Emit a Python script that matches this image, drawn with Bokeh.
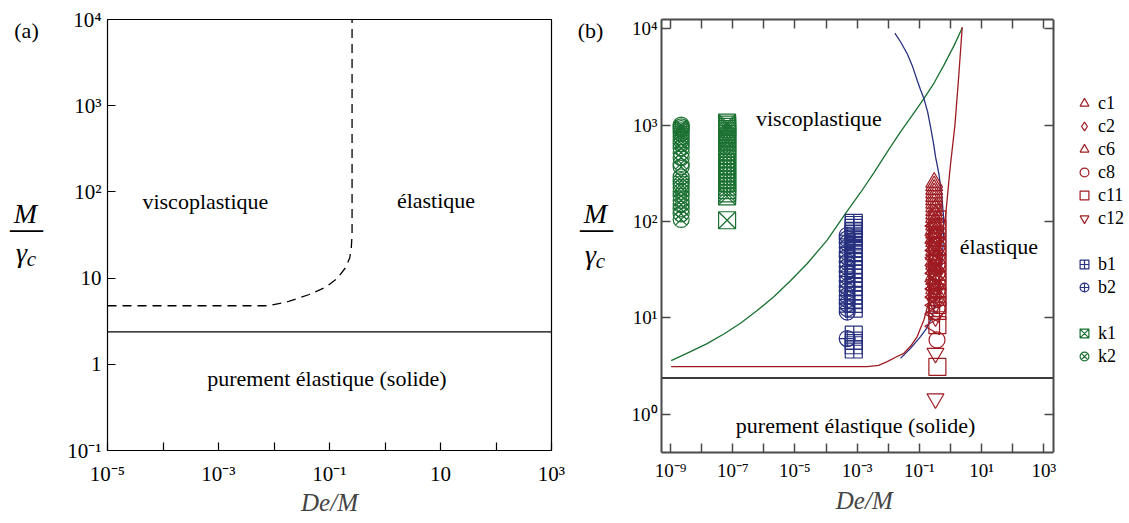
import math
from bokeh.plotting import figure
from bokeh.layouts import row
from bokeh.models import (FixedTicker, CustomJSTickFormatter, Span, Legend,
                          LegendItem, LogAxis, Range1d)
from bokeh.core.properties import value
from bokeh.embed import file_html
from bokeh.resources import INLINE

SERIF = "Liberation Serif"
RED = "#9e1b22"
BLUE = "#27307f"
GREEN = "#1a7031"
GREY = "#4a4a4a"

# ---------------- panel (a) data ----------------
a_x_ticks = [1e-5, 1e-3, 1e-1, 1e1, 1e3]
a_x_minor = [1e-4, 1e-2, 1e0, 1e2]
a_y_ticks = [1e-1, 1e0, 1e1, 1e2, 1e3, 1e4]
a_solid_level = 2.38
a_dash_x = [1e-5, 0.0080, 0.0184, 0.042, 0.084, 0.136, 0.193, 0.231, 0.247, 0.255, 0.255]
a_dash_y = [4.78, 4.78, 5.36, 6.41, 7.8, 9.84, 13.1, 17.1, 22.3, 32.0, 1e4]
a_labels = ["viscoplastique", "élastique", "purement élastique (solide)"]
a_label_x = [5.8e-4, 8.3, 0.09]
a_label_y = [78.0, 80.0, 0.69]

# ---------------- panel (b) data ----------------
b_x_lo, b_x_hi = 5.14e-10, 2004.0        # extent of the axes box
b_y_lo, b_y_hi = 0.401, 12474.0
b_x_ticks = [1e-9, 1e-7, 1e-5, 1e-3, 1e-1, 1e1, 1e3]
b_x_minor = [1e-8, 1e-6, 1e-4, 1e-2, 1e0, 1e2]
b_y_ticks = [1e0, 1e1, 1e2, 1e3, 1e4]
b_solid_level = 2.38

green_x = [1.05e-9, 4.4e-9, 1.5e-8, 5.2e-8, 1.78e-7, 6.1e-7, 2.1e-6, 7.2e-6, 2.5e-5,
           1.09e-4, 4.2e-4, 1.29e-3, 3.4e-3, 9.3e-3, 0.0248, 0.059, 0.14, 0.30, 0.61,
           1.33, 2.4]
green_y = [3.6, 4.47, 5.4, 6.8, 8.8, 11.9, 16.6, 24.3, 36.7, 64, 121, 200, 318, 527, 850,
           1264, 1885, 2750, 4170, 6760, 10240]
blue_x = [0.0163, 0.0248, 0.0408, 0.0592, 0.0855, 0.109, 0.140, 0.184, 0.229, 0.286, 0.332,
          0.424, 0.518, 0.600, 0.600, 0.545, 0.463, 0.377, 0.260, 0.171, 0.109, 0.052, 0.0248]
blue_y = [9020, 7330, 5510, 4140, 2910, 2330, 1885, 1380, 958, 643, 468, 314, 195, 112,
          66.7, 43, 27.6, 17.9, 10.3, 7.8, 6.4, 4.83, 3.8]
red_x = [1.05e-9, 2.11e-3, 4.9e-3, 9.3e-3, 0.0172, 0.0318, 0.052, 0.0855, 0.109, 0.140,
         0.184, 0.229, 0.385, 0.695, 0.97, 1.39, 1.82, 2.39]
red_y = [3.12, 3.12, 3.22, 3.52, 3.90, 4.29, 5.07, 6.4, 7.8, 9.5, 13.2, 17.9, 46.6, 112,
         354, 995, 3030, 10400]

k2_x = [2.2e-9] * 24
k2_y = [1000, 960, 920, 870, 820, 760, 700, 640, 580, 520, 460, 400, 370, 290, 265,
        245, 225, 205, 185, 165, 150, 135, 120, 105]
k1_x = [6.6e-8] * 26
k1_y = [1060, 1010, 960, 910, 860, 810, 760, 710, 660, 610, 570, 530, 490, 450, 410,
        380, 350, 320, 295, 270, 250, 230, 212, 196, 182, 103]
b2_x = [4.8e-4] * 19
b2_y = [72, 66, 60, 54, 48, 43, 38, 34, 30, 27, 24, 21, 19, 17, 15.5, 14, 12.5, 11.5, 6.1]
b1_x = [7.8e-4] * 27
b1_y = [97, 92, 86, 80, 74, 68, 62, 57, 52, 47, 43, 39, 35, 32, 29, 26, 23.5, 21, 19,
        17, 15.5, 14, 12.5, 6.7, 5.8, 5.2, 4.7]
c1_x = [0.30] * 28
c1_y = [255, 235, 215, 198, 182, 168, 155, 142, 130, 120, 110, 100, 92, 84, 76, 69, 62,
        56, 50, 45, 40, 36, 32, 28, 25, 22, 20, 18]
c2_x = [0.33] * 17
c2_y = [140, 120, 105, 92, 80, 70, 62, 55, 48, 42, 37, 32, 28, 24, 21, 18, 16]
c6_x = [0.31] * 13
c6_y = [90, 72, 60, 50, 42, 35, 29, 24, 20, 16.5, 13.5, 11, 8.2]
c8_x = [0.37] * 10
c8_y = [70, 55, 44, 36, 29, 23, 19, 15.5, 12.5, 5.9]
c11_x = [0.38] * 14
c11_y = [105, 85, 68, 55, 45, 37, 30, 24, 20, 16.5, 13.6, 11.8, 8.4, 3.1]
c12_x = [0.33] * 8
c12_y = [60, 40, 28, 20, 14, 10.3, 4.3, 1.45]

b_labels = ["viscoplastique", "élastique", "purement élastique (solide)"]
b_label_x = [5.9e-5, 36.0, 8.9e-4]
b_label_y = [1167.0, 54.7, 0.756]

# side titles (panel tag and y-axis fraction)
tag_a, tag_b = "(a)", "(b)"
frac_top, frac_bar, frac_gamma, frac_sub = "M", "\u2014", "\u03b3", "c"

ALIGN_SHIFT = 19  # the strips' frames start 19 px below the top


def sup_formatter(plain):
    code = r"""
    const e = Math.round(Math.log10(tick));
    const s = {"-":"\u207b","0":"\u2070","1":"\u00b9","2":"\u00b2","3":"\u00b3","4":"\u2074",
               "5":"\u2075","6":"\u2076","7":"\u2077","8":"\u2078","9":"\u2079"};
    if (PLAIN && e == 0) return "1";
    if (PLAIN && e == 1) return "10";
    return "10" + String(e).split("").map(c => s[c]).join("");
    """.replace("PLAIN", "true" if plain else "false")
    return CustomJSTickFormatter(code=code)


def style_axis(ax, color, size, tick_len, lw, standoff, line=None):
    if line is None:
        ax.axis_line_color = None
    else:
        ax.axis_line_color = color
        ax.axis_line_width = line
    ax.major_tick_in = tick_len
    ax.major_tick_out = 0
    ax.minor_tick_in = tick_len
    ax.minor_tick_out = 0
    ax.major_tick_line_color = color
    ax.minor_tick_line_color = color
    ax.major_tick_line_width = lw
    ax.minor_tick_line_width = lw
    ax.major_label_text_font = SERIF
    ax.major_label_text_font_size = size
    ax.major_label_text_color = "black"
    ax.major_label_standoff = standoff


def side_strip(width, tag, tag_xy, m_xy, bar_xy, g_xy, c_xy):
    s = figure(title=None, frame_width=width, frame_height=523,
               x_range=Range1d(0, width), y_range=Range1d(523 + ALIGN_SHIFT, ALIGN_SHIFT),
               x_axis_location=None, y_axis_location=None, min_border=0,
               output_backend="svg", toolbar_location=None)
    s.grid.visible = False
    s.outline_line_color = None
    common = dict(text_font=value(SERIF), text_align="center", text_baseline="middle",
                  text_color="black")
    s.text(x=[tag_xy[0]], y=[tag_xy[1]], text=[tag], text_font_size="22px", **common)
    s.text(x=[m_xy[0]], y=[m_xy[1]], text=[frac_top], text_font_size="28px",
           text_font_style="italic", **common)
    s.text(x=[bar_xy[0]], y=[bar_xy[1]], text=[frac_bar], text_font_size="33px", **common)
    s.text(x=[g_xy[0]], y=[g_xy[1]], text=[frac_gamma], text_font_size="28px",
           text_font_style="italic", **common)
    s.text(x=[c_xy[0]], y=[c_xy[1]], text=[frac_sub], text_font_size="21px",
           text_font_style="italic", **common)
    return s


# ================= panel (a) =================
sa = side_strip(52, tag_a, (26, 30), (25, 213), (26, 227), (21, 252), (31, 258))

pa = figure(x_axis_type="log", y_axis_type="log", x_range=(1e-5, 1e3), y_range=(0.1, 1e4),
            frame_width=444, frame_height=431, min_border_left=55, min_border_right=24,
            min_border_top=19, min_border_bottom=73, output_backend="svg",
            toolbar_location=None)
pa.grid.visible = False
pa.outline_line_color = "black"
pa.outline_line_width = 1.2
pa.xaxis.ticker = FixedTicker(ticks=a_x_ticks, minor_ticks=a_x_minor)
pa.yaxis.ticker = FixedTicker(ticks=a_y_ticks, minor_ticks=[])
pa.xaxis.formatter = sup_formatter(True)
pa.yaxis.formatter = sup_formatter(True)
style_axis(pa.xaxis[0], "black", "21px", 8, 1.2, 11)
style_axis(pa.yaxis[0], "black", "21px", 8, 1.2, 6)
pa.xaxis.axis_label = "De/M"
pa.xaxis.axis_label_text_font = SERIF
pa.xaxis.axis_label_text_font_style = "italic"
pa.xaxis.axis_label_text_font_size = "25px"
pa.xaxis.axis_label_standoff = 0

pa.add_layout(Span(location=a_solid_level, dimension="width", line_color="black", line_width=1.3))
pa.line(a_dash_x, a_dash_y, line_color="black", line_width=1.3, line_dash="9 6")
pa.text(x=a_label_x, y=a_label_y, text=a_labels, text_font=value(SERIF),
        text_font_size="22px", text_align="center", text_baseline="middle", text_color="black")

# ================= panel (b) =================
sb = side_strip(45, tag_b, (15, 30), (20, 213), (21, 227), (15, 254), (25, 260))

# frame extends over the legend column; the axes box is drawn by bounded axes
pb = figure(x_axis_type="log", y_axis_type="log", x_range=(b_x_lo, 5.7e5),
            y_range=(b_y_lo, b_y_hi), frame_width=468, frame_height=433,
            min_border_left=41, min_border_right=0, min_border_top=16,
            min_border_bottom=74, output_backend="svg", toolbar_location=None)
pb.grid.visible = False
pb.outline_line_color = None
pb.xaxis.ticker = FixedTicker(ticks=b_x_ticks, minor_ticks=b_x_minor)
pb.yaxis.ticker = FixedTicker(ticks=b_y_ticks, minor_ticks=[])
pb.xaxis.formatter = sup_formatter(False)
pb.yaxis.formatter = sup_formatter(False)
pb.xaxis.bounds = (b_x_lo, b_x_hi)
style_axis(pb.xaxis[0], GREY, "19px", 9, 1.5, 7, line=2)
style_axis(pb.yaxis[0], GREY, "19px", 9, 1.5, 4, line=2)
# non-breaking spaces keep the centred label over the axes box, not the legend column
pb.xaxis.axis_label = "De/M" + "\u00a0" * 10
pb.xaxis.axis_label_text_font = SERIF
pb.xaxis.axis_label_text_font_style = "italic"
pb.xaxis.axis_label_text_font_size = "25px"
pb.xaxis.axis_label_standoff = 3

top_ax = LogAxis(ticker=FixedTicker(ticks=b_x_ticks, minor_ticks=b_x_minor),
                 formatter=CustomJSTickFormatter(code="return '';"),
                 bounds=(b_x_lo, b_x_hi))
right_ax = LogAxis(ticker=FixedTicker(ticks=b_y_ticks, minor_ticks=[]),
                   formatter=CustomJSTickFormatter(code="return '';"),
                   fixed_location=b_x_hi)
for ax in (top_ax, right_ax):
    style_axis(ax, GREY, "0px", 9, 1.5, 0, line=2)
pb.add_layout(top_ax, "above")
pb.add_layout(right_ax, "right")

pb.line([b_x_lo, b_x_hi], [b_solid_level, b_solid_level], line_color="#3a3a3a", line_width=2)
pb.line(green_x, green_y, line_color=GREEN, line_width=1.3)
pb.line(blue_x, blue_y, line_color=BLUE, line_width=1.3)
pb.line(red_x, red_y, line_color=RED, line_width=1.3)

mk = dict(fill_color=None, line_width=1.2)
r_k2 = pb.scatter(k2_x, k2_y, marker="circle_x", size=16, line_color=GREEN, **mk)
r_k1 = pb.scatter(k1_x, k1_y, marker="square_x", size=17, line_color=GREEN, **mk)
r_b2 = pb.scatter(b2_x, b2_y, marker="circle_cross", size=16, line_color=BLUE, **mk)
r_b1 = pb.scatter(b1_x, b1_y, marker="square_cross", size=17, line_color=BLUE, **mk)
r_c1 = pb.scatter(c1_x, c1_y, marker="triangle", size=17, line_color=RED, **mk)
r_c2 = pb.scatter(c2_x, c2_y, marker="diamond", size=17, line_color=RED, **mk)
r_c6 = pb.scatter(c6_x, c6_y, marker="triangle", angle=math.pi / 2, size=17, line_color=RED, **mk)
r_c8 = pb.scatter(c8_x, c8_y, marker="circle", size=16, line_color=RED, **mk)
r_c11 = pb.scatter(c11_x, c11_y, marker="square", size=17, line_color=RED, **mk)
r_c12 = pb.scatter(c12_x, c12_y, marker="inverted_triangle", size=17, line_color=RED, **mk)
r_gap = pb.scatter(x=[], y=[], marker="circle", size=1, line_alpha=0, fill_alpha=0)

pb.text(x=b_label_x, y=b_label_y, text=b_labels, text_font=value(SERIF),
        text_font_size="22px", text_align="center", text_baseline="middle", text_color="black")

legend = Legend(
    items=[LegendItem(label="c1", renderers=[r_c1]), LegendItem(label="c2", renderers=[r_c2]),
           LegendItem(label="c6", renderers=[r_c6]), LegendItem(label="c8", renderers=[r_c8]),
           LegendItem(label="c11", renderers=[r_c11]), LegendItem(label="c12", renderers=[r_c12]),
           LegendItem(label=" ", renderers=[r_gap]),
           LegendItem(label="b1", renderers=[r_b1]), LegendItem(label="b2", renderers=[r_b2]),
           LegendItem(label=" ", renderers=[r_gap]),
           LegendItem(label="k1", renderers=[r_k1]), LegendItem(label="k2", renderers=[r_k2])],
    location=(412, 85), orientation="vertical", border_line_color=None,
    background_fill_alpha=0, padding=0, spacing=1, glyph_width=22, glyph_height=22,
    label_height=21, label_standoff=3, margin=0, label_text_font=SERIF,
    label_text_font_size="18px", label_text_color="black")
pb.add_layout(legend)

layout = row(sa, pa, sb, pb)
open("out.html", "w", encoding="utf-8").write(file_html(layout, INLINE))
